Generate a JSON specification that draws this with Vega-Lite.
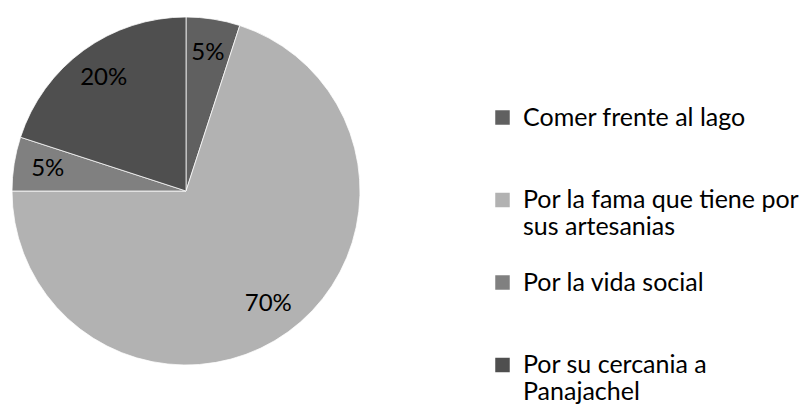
{
  "$schema": "https://vega.github.io/schema/vega-lite/v6.json",
  "width": 348,
  "height": 348,
  "padding": {"left": 10, "top": 15, "right": 0, "bottom": 0},
  "background": "white",
  "config": {"view": {"stroke": null}, "font": "Lato", "style": {"guide-label": {"lineHeight": 27}}},
  "data": {
    "values": [
      {"motivo": "Comer frente al lago", "pct": 0.05, "orden": 1},
      {"motivo": "Por la fama que tiene por sus artesanias", "pct": 0.70, "orden": 2},
      {"motivo": "Por la vida social", "pct": 0.05, "orden": 3},
      {"motivo": "Por su cercania a Panajachel", "pct": 0.20, "orden": 4}
    ]
  },
  "encoding": {
    "theta": {"field": "pct", "type": "quantitative", "stack": true},
    "order": {"field": "orden", "type": "quantitative"},
    "color": {
      "field": "motivo",
      "type": "nominal",
      "sort": ["Comer frente al lago", "Por la fama que tiene por sus artesanias", "Por la vida social", "Por su cercania a Panajachel"],
      "scale": {
        "domain": ["Comer frente al lago", "Por la fama que tiene por sus artesanias", "Por la vida social", "Por su cercania a Panajachel"],
        "range": ["#606060", "#b2b2b2", "#808080", "#4f4f4f"]
      },
      "legend": {
        "title": null,
        "orient": "none",
        "legendX": 478,
        "legendY": 88,
        "padding": 0,
        "symbolType": "square",
        "symbolSize": 210,
        "symbolStrokeWidth": 0,
        "labelFont": "Lato",
        "labelFontSize": 25,
        "labelColor": "#000000",
        "labelOffset": 8,
        "labelLimit": 400,
        "rowPadding": 29.5,
        "labelExpr": "datum.label == 'Por la fama que tiene por sus artesanias' ? ['Por la fama que tiene por', 'sus artesanias'] : datum.label == 'Por su cercania a Panajachel' ? ['Por su cercania a', 'Panajachel'] : [datum.label, '']"
      }
    }
  },
  "layer": [
    {"mark": {"type": "arc", "stroke": "white", "strokeWidth": 0.75}},
    {
      "mark": {"type": "text", "radius": 140, "fontSize": 24, "font": "Lato"},
      "encoding": {
        "text": {"field": "pct", "type": "quantitative", "format": ".0%"},
        "color": {"value": "#000000"}
      }
    }
  ]
}
